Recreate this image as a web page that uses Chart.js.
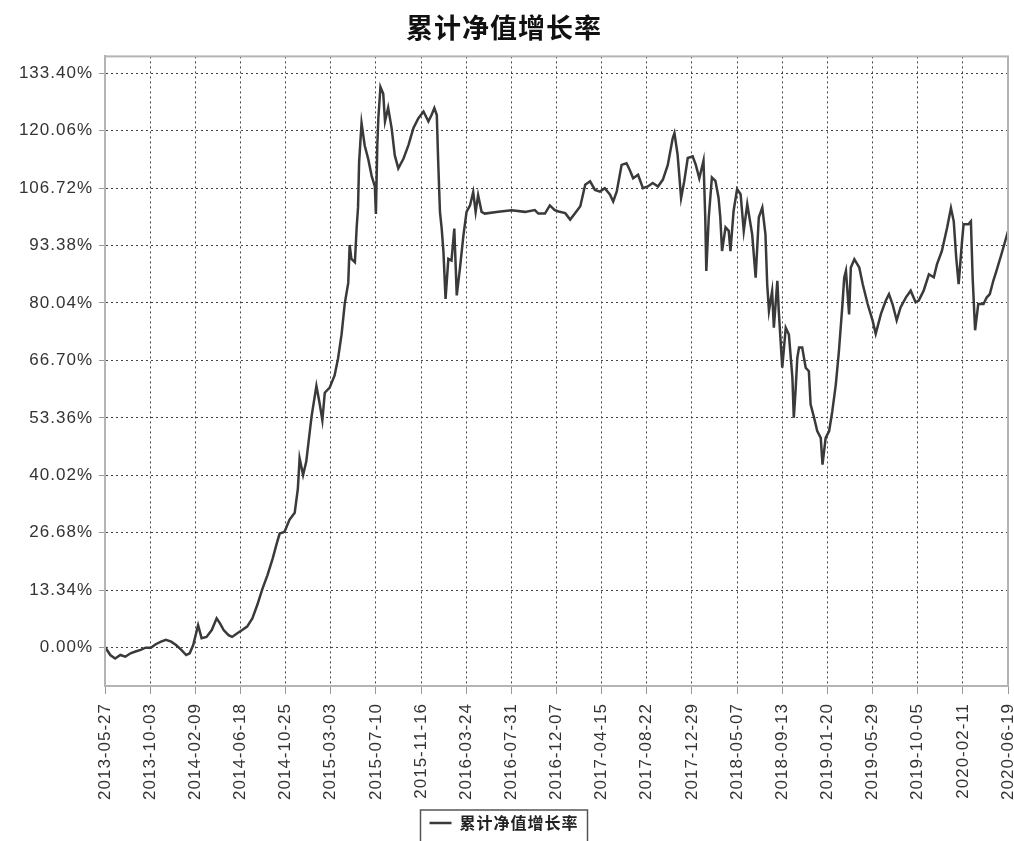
<!DOCTYPE html>
<html>
<head>
<meta charset="utf-8">
<script src="https://cdn.jsdelivr.net/npm/chart.js@4.4.0/dist/chart.umd.min.js"></script>
<style>
  html, body { margin: 0; padding: 0; background: #fff; }
</style>
</head>
<body>
<canvas id="navChart" width="1014" height="841"></canvas>
<script>
const startDate = '2013-05-27';
const xTickLabels = [
    '2013-05-27', '2013-10-03', '2014-02-09', '2014-06-18', '2014-10-25', '2015-03-03', '2015-07-10',
    '2015-11-16', '2016-03-24', '2016-07-31', '2016-12-07', '2017-04-15', '2017-08-22', '2017-12-29',
    '2018-05-07', '2018-09-13', '2019-01-20', '2019-05-29', '2019-10-05', '2020-02-11', '2020-06-19'
];
const yTickValues = [0, 13.34, 26.68, 40.02, 53.36, 66.70, 80.04, 93.38, 106.72, 120.06, 133.40];

// days since 2013-05-27
const dayOffsets = [
    0, 15, 29, 44, 58, 73, 87, 102, 116, 131, 145, 160, 174, 189, 203, 218, 232, 242, 252, 266,
    276, 290, 305, 319, 329, 339, 353, 363, 377, 392, 406, 421, 435, 450, 464, 479, 490, 499, 513, 527,
    542, 551, 556, 566, 575, 590, 604, 613, 621, 628, 642, 656, 666, 676, 685, 695, 699, 704, 714, 719,
    723, 726, 733, 742, 752, 762, 771, 774, 778, 781, 787, 795, 800, 809, 819, 828, 838, 853, 867, 881,
    895, 910, 924, 933, 941, 948, 952, 957, 962, 967, 973, 981, 990, 998, 1005, 1014, 1024, 1033, 1043, 1052,
    1059, 1066, 1076, 1085, 1124, 1162, 1200, 1228, 1238, 1257, 1271, 1285, 1296, 1315, 1329, 1343, 1358, 1372, 1386, 1400,
    1414, 1428, 1443, 1452, 1462, 1476, 1490, 1499, 1509, 1523, 1537, 1551, 1565, 1580, 1594, 1608, 1622, 1627, 1636, 1646,
    1655, 1665, 1679, 1688, 1698, 1710, 1715, 1718, 1725, 1734, 1744, 1753, 1758, 1763, 1773, 1782, 1787, 1796, 1806, 1816,
    1825, 1835, 1849, 1859, 1868, 1878, 1887, 1892, 1897, 1906, 1911, 1921, 1925, 1935, 1945, 1954, 1964, 1968, 1973, 1978,
    1983, 1992, 2002, 2011, 2016, 2026, 2035, 2045, 2050, 2059, 2069, 2078, 2088, 2097, 2107, 2112, 2117, 2126, 2131, 2141,
    2155, 2165, 2179, 2193, 2202, 2217, 2231, 2240, 2250, 2262, 2273, 2288, 2302, 2316, 2325, 2339, 2354, 2368, 2377, 2391,
    2406, 2417, 2425, 2432, 2439, 2448, 2453, 2467, 2474, 2479, 2486, 2495, 2510, 2519, 2528, 2538, 2547, 2561, 2580
];
const navGrowth = [
    0.2, -1.7, -2.5, -1.7, -2.1, -1.3, -0.9, -0.5, 0.0, 0.0, 0.8, 1.4, 1.8, 1.4, 0.6, -0.5, -1.7, -1.3, 0.6, 5.2,
    2.2, 2.5, 4.1, 6.8, 5.6, 4.1, 2.9, 2.5, 3.3, 4.1, 4.9, 6.8, 9.9, 13.7, 16.8, 20.7, 24.0, 26.5, 26.9, 29.7,
    31.3, 36.9, 44.0, 40.1, 43.2, 53.6, 60.8, 56.8, 52.8, 59.2, 60.4, 63.2, 67.2, 72.8, 79.9, 84.7, 93.5, 90.3, 89.5, 97.5,
    102.3, 112.7, 121.8, 116.6, 113.5, 109.5, 107.1, 100.7, 116.6, 123.0, 130.2, 128.6, 122.2, 125.4, 120.6, 114.3, 111.3, 113.6, 116.7, 120.6,
    122.9, 124.5, 122.2, 123.7, 125.3, 123.7, 112.8, 101.2, 97.3, 91.9, 81.0, 90.3, 89.9, 97.3, 81.8, 88.0, 95.7, 101.2, 102.7, 105.8,
    101.2, 105.1, 101.2, 100.8, 101.2, 101.6, 101.2, 101.6, 100.8, 100.8, 102.7, 101.6, 101.3, 100.9, 99.4, 100.9, 102.5, 107.5, 108.3, 106.3,
    105.9, 106.7, 105.2, 103.6, 105.9, 112.1, 112.5, 111.0, 109.0, 109.8, 106.7, 107.1, 107.9, 107.1, 108.7, 112.1, 118.3, 119.5, 114.5, 104.4,
    108.3, 113.7, 114.1, 112.1, 109.0, 113.1, 99.9, 87.5, 99.9, 109.2, 108.4, 104.5, 99.9, 92.1, 97.6, 96.8, 92.1, 101.4, 106.5, 105.3,
    96.8, 103.0, 96.0, 85.9, 99.9, 102.2, 96.0, 84.4, 78.2, 82.8, 74.3, 85.2, 78.2, 65.0, 74.3, 72.7, 62.7, 53.4, 59.6, 67.3,
    69.7, 69.7, 65.0, 64.2, 56.5, 53.4, 50.3, 48.7, 42.5, 48.7, 50.3, 54.9, 61.1, 68.9, 79.7, 85.9, 87.5, 77.4, 88.3, 90.2,
    88.3, 84.4, 79.8, 76.0, 72.9, 77.5, 80.6, 82.1, 79.8, 76.0, 79.0, 81.3, 82.9, 80.2, 80.6, 82.9, 86.7, 86.0, 89.0, 92.1,
    97.5, 102.1, 99.0, 90.6, 84.4, 93.7, 98.3, 98.3, 99.0, 85.9, 73.7, 79.8, 79.8, 81.3, 82.1, 85.2, 87.5, 91.3, 96.7
];

const seriesName = '累计净值增长率';
const cjkFont = '"Noto Sans CJK SC", "Noto Sans", sans-serif';
const latinFont = '"Liberation Sans", Arial, sans-serif';

const dayOf = (s) => Math.round((Date.parse(s) - Date.parse(startDate)) / 86400000);
const xTickDays = xTickLabels.map(dayOf);

const framePlugin = {
    id: 'frame',
    beforeUpdate(chart) { chart.ctx.letterSpacing = '1px'; },
    beforeDraw(chart) {
        chart.ctx.letterSpacing = '1px';
        chart.ctx.save();
        chart.ctx.fillStyle = '#fff';
        chart.ctx.fillRect(0, 0, chart.width, chart.height);
        chart.ctx.restore();
    },
    afterDraw(chart) {
        const {ctx, chartArea: a, legend} = chart;
        ctx.save();
        ctx.strokeStyle = '#b4b4b4';
        ctx.lineWidth = 2;
        ctx.strokeRect(a.left, a.top, a.right - a.left, a.bottom - a.top);
        const hb = legend.legendHitBoxes[0];
        if (hb) {
            ctx.strokeStyle = '#555';
            ctx.lineWidth = 1.5;
            ctx.strokeRect(hb.left - 9, legend.top + 3, hb.width + 18, 60);
        }
        ctx.restore();
    }
};

const ctx = document.getElementById('navChart');
const navChart = new Chart(ctx, {
    type: 'line',
    data: {
        datasets: [{
            label: seriesName,
            data: dayOffsets.map((d, i) => ({x: d, y: navGrowth[i]})),
            borderColor: '#3a3a3a',
            backgroundColor: '#3a3a3a',
            borderWidth: 2.5,
            pointRadius: 0,
            tension: 0,
            fill: false
        }]
    },
    options: {
        responsive: false,
        animation: false,
        layout: {padding: {left: 0, right: 6, top: 0, bottom: 0}},
        plugins: {
            title: {
                display: true,
                text: seriesName,
                color: '#111',
                font: {family: cjkFont, size: 27, weight: 'bold'},
                padding: {top: 12, bottom: 12}
            },
            legend: {
                position: 'bottom',
                labels: {
                    usePointStyle: true,
                    pointStyle: 'line',
                    pointStyleWidth: 22,
                    color: '#222',
                    font: {family: cjkFont, size: 16, weight: 'bold'},
                    padding: 8
                }
            },
            tooltip: {enabled: false}
        },
        scales: {
            x: {
                type: 'linear',
                min: 0,
                max: xTickDays[xTickDays.length - 1],
                afterBuildTicks: (scale) => { scale.ticks = xTickDays.map((v) => ({value: v})); },
                afterFit: (scale) => { scale.height = 121; scale.paddingLeft = 0; scale.paddingRight = 0; },
                ticks: {
                    autoSkip: false,
                    minRotation: 90,
                    maxRotation: 90,
                    padding: 9,
                    color: '#333',
                    font: {family: latinFont, size: 17},
                    callback: (v, i) => xTickLabels[i]
                },
                grid: {color: '#444', lineWidth: 1, tickLength: 8, tickColor: '#999', tickBorderDash: []},
                border: {color: '#b4b4b4', width: 2, dash: [2, 3]}
            },
            y: {
                min: -8.9,
                max: 137.3,
                afterBuildTicks: (scale) => { scale.ticks = yTickValues.map((v) => ({value: v})); },
                afterFit: (scale) => { scale.width = 105; scale.paddingTop = 0; scale.paddingBottom = 0; },
                ticks: {
                    autoSkip: false,
                    padding: 6,
                    color: '#333',
                    font: {family: latinFont, size: 17},
                    callback: (v) => v.toFixed(2) + '%'
                },
                grid: {color: '#444', lineWidth: 1, tickLength: 6, tickColor: '#999', tickBorderDash: []},
                border: {color: '#b4b4b4', width: 2, dash: [2, 3]}
            }
        }
    },
    plugins: [framePlugin]
});
</script>
</body>
</html>
